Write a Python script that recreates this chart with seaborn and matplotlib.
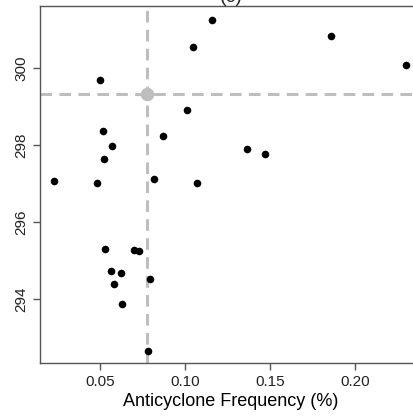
"""
(c) 고기압 빈도 vs 값 산점도 — 평균 위치에 회색 점선 + 회색 점
"""
import matplotlib
matplotlib.use("Agg")
import matplotlib.pyplot as plt
import seaborn as sns
import pandas as pd

# 데이터 ------------------------------------------------
freq = [0.1157, 0.1045, 0.1859, 0.2298, 0.0500, 0.1010, 0.0519, 0.0869,
        0.0572, 0.1367, 0.1472, 0.0525, 0.0231, 0.0484, 0.0819, 0.1069,
        0.0529, 0.0698, 0.0728, 0.0566, 0.0625, 0.0582, 0.0794, 0.0629,
        0.0781]
value = [301.24, 300.54, 300.82, 300.06, 299.69, 298.90, 298.37, 298.23,
         297.97, 297.89, 297.77, 297.63, 297.06, 297.01, 297.13, 297.01,
         295.30, 295.28, 295.24, 294.73, 294.67, 294.40, 294.52, 293.87,
         292.67]
mean_freq = [0.0776]
mean_value = [299.31]

x_ticks = [0.05, 0.10, 0.15, 0.20]
y_ticks = [294, 296, 298, 300]
title = "(c)"
x_label = "Anticyclone Frequency (%)"

sns.set_style("ticks")
plt.rcParams["font.family"] = ["Liberation Sans", "DejaVu Sans"]


def main():
    df = pd.DataFrame({"freq": freq, "value": value})
    mean_df = pd.DataFrame({"freq": mean_freq, "value": mean_value})

    fig = plt.figure(figsize=(4.14, 4.18), dpi=100)
    ax = fig.add_axes([40 / 414, 1 - 363.3 / 418, 382 / 414, 357.6 / 418])

    # 평균 위치 점선 (회색)
    ax.axvline(mean_freq[0], color="#BEBEBE", lw=2.2, dashes=(3.8, 2.4), zorder=1)
    ax.axhline(mean_value[0], color="#BEBEBE", lw=2.2, dashes=(3.8, 2.4), zorder=1)

    sns.scatterplot(data=df, x="freq", y="value", ax=ax, color="black",
                    s=30, linewidth=0, zorder=3)
    sns.scatterplot(data=mean_df, x="freq", y="value", ax=ax, color="#BEBEBE",
                    s=95, linewidth=0, zorder=2)

    ax.set_xlim(0.01471, 0.2394)
    ax.set_ylim(292.34, 301.61)
    ax.set_xticks(x_ticks)
    ax.set_xticklabels([f"{t:.2f}" for t in x_ticks])
    ax.set_yticks(y_ticks)
    ax.set_yticklabels([str(t) for t in y_ticks], rotation=90, va="center")

    for s in ax.spines.values():
        s.set_color("#555555")
        s.set_linewidth(1.0)
    ax.tick_params(axis="both", direction="out", length=4.8, width=1.0,
                   color="#555555", labelsize=11, labelcolor="#222222", pad=3.5)

    ax.set_xlabel(x_label, fontsize=13, color="black", labelpad=3)
    ax.set_ylabel("")
    ax.set_title(title, fontsize=14, pad=2)

    fig.savefig("out.png", dpi=100)
    plt.close(fig)


if __name__ == "__main__":
    main()
